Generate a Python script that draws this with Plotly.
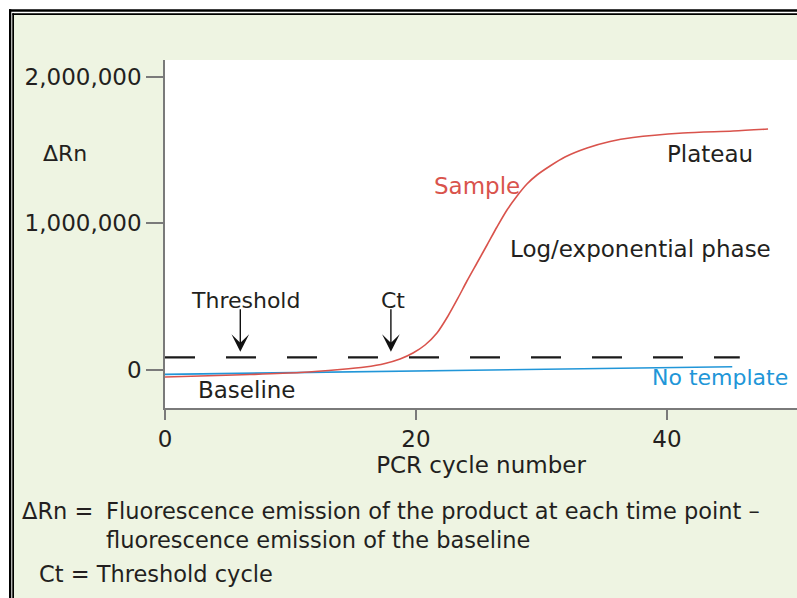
import plotly.graph_objects as go

# ---- data ----
sample_cycle = [0, 2.79, 6.77, 10.76, 13.94, 15.94, 17.53, 18.73, 19.76, 20.72,
                21.67, 22.55, 23.35, 24.06, 24.86, 25.66, 26.45, 27.25, 28.05,
                28.84, 29.64, 30.68, 31.87, 33.63, 35.46, 37.29, 41.27, 45.26, 48.05]
sample_rn = [-51200, -44400, -34100, -20500, 0, 17100, 41000, 71700, 112600,
             167200, 249100, 365200, 488100, 604100, 727000, 849800, 972700,
             1088700, 1184300, 1266200, 1327600, 1389100, 1450500, 1511900,
             1556300, 1583600, 1614300, 1628000, 1641600]
ntc_cycle = [0, 24.3, 45.2]
ntc_rn = [-33000, -5000, 19000]
threshold_cycle = [0, 45.8]
threshold_rn = [83000, 83000]
ct_cycle = 18.0
threshold_arrow_cycle = 6.0
arrow_tip_rn = 121000

x_ticks = [0, 20, 40]
y_ticks = [0, 1000000, 2000000]
y_ticktext = ["0", "1,000,000", "2,000,000"]

# ---- layout helpers ----
W, H = 797, 598
ML, MR, MT, MB = 165, 0, 60, 190
PW, PH = W - ML - MR, H - MT - MB


def px(x):
    return (x - ML) / PW


def py(y):
    return (H - MB - y) / PH


FONT = "DejaVu Sans"
DARK = "#231f20"
RED = "#d9534c"
BLUE = "#2196d8"
GRAY = "#7a7a7a"
GREEN = "#eef4e2"

fig = go.Figure()
fig.add_trace(go.Scatter(x=threshold_cycle, y=threshold_rn, mode="lines",
                         line=dict(color="#1a1a1a", width=2.2, dash="30px,31px"),
                         hoverinfo="skip", showlegend=False))
fig.add_trace(go.Scatter(x=ntc_cycle, y=ntc_rn, mode="lines",
                         line=dict(color=BLUE, width=1.6),
                         showlegend=False, name="No template"))
fig.add_trace(go.Scatter(x=sample_cycle, y=sample_rn, mode="lines",
                         line=dict(color=RED, width=1.6, shape="spline", smoothing=0.8),
                         showlegend=False, name="Sample"))

ann = []


def label(text, cx, cy, size=23, color=DARK, xanchor="center"):
    ann.append(dict(text=text, x=px(cx), y=py(cy), xref="paper", yref="paper",
                    showarrow=False, xanchor=xanchor, yanchor="middle",
                    font=dict(family=FONT, size=size, color=color)))


label("ΔRn", 65, 153, size=22)
label("Threshold", 245, 300.5, size=22)
label("Ct", 393, 300, size=22)
label("Sample", 477, 186, color=RED)
label("Plateau", 710, 154)
label("Log/exponential phase", 640, 249)
label("Baseline", 246.5, 390)
label("No template", 720, 377.5, color=BLUE, size=22)
label("ΔRn =", 20, 510.5, size=22.5, xanchor="left")
label("Fluorescence emission of the product at each time point –", 104, 510.5,
      size=22.5, xanchor="left")
label("fluorescence emission of the baseline", 104, 539.5, size=22.5, xanchor="left")
label("Ct = Threshold cycle", 37, 574, size=22.5, xanchor="left")

for xc in (threshold_arrow_cycle, ct_cycle):
    ann.append(dict(x=xc, y=arrow_tip_rn, xref="x", yref="y", text="",
                    showarrow=True, arrowhead=3, arrowsize=2.1, arrowwidth=1.4,
                    arrowcolor="#111111", ax=0, ay=-44))

shapes = [
    # white outside the frame
    dict(type="rect", xref="paper", yref="paper", x0=px(0), x1=px(12.3), y0=py(H), y1=py(0),
         fillcolor="white", line=dict(width=0), layer="above"),
    dict(type="rect", xref="paper", yref="paper", x0=px(0), x1=px(W), y0=py(13.3), y1=py(0),
         fillcolor="white", line=dict(width=0), layer="above"),
    # double frame lines
    dict(type="rect", xref="paper", yref="paper", x0=px(9), x1=px(11.3), y0=py(H), y1=py(9.3),
         fillcolor="black", line=dict(width=0), layer="above"),
    dict(type="rect", xref="paper", yref="paper", x0=px(9), x1=px(W), y0=py(11.7), y1=py(9.3),
         fillcolor="black", line=dict(width=0), layer="above"),
    dict(type="rect", xref="paper", yref="paper", x0=px(12.3), x1=px(14), y0=py(H), y1=py(13.3),
         fillcolor="black", line=dict(width=0), layer="above"),
    dict(type="rect", xref="paper", yref="paper", x0=px(12.3), x1=px(W), y0=py(15), y1=py(13.3),
         fillcolor="black", line=dict(width=0), layer="above"),
]

fig.update_layout(
    width=W, height=H,
    margin=dict(l=ML, r=MR, t=MT, b=MB, pad=0),
    paper_bgcolor=GREEN, plot_bgcolor="white",
    font=dict(family=FONT, color=DARK),
    annotations=ann, shapes=shapes,
    xaxis=dict(range=[0, PW / 12.55], tickvals=x_ticks, ticks="outside", ticklen=10,
               tickwidth=1.5, tickcolor=GRAY, showline=True, linecolor=GRAY, linewidth=1.5,
               showgrid=False, zeroline=False, tickfont=dict(size=23, color=DARK),
               title=dict(text="PCR cycle number", font=dict(size=23, color=DARK), standoff=6)),
    yaxis=dict(range=[-262800, 2112600], tickvals=y_ticks, ticktext=y_ticktext,
               ticks="outside", ticklen=17, tickwidth=1.5, tickcolor=GRAY,
               showline=True, linecolor=GRAY, linewidth=1.5, showgrid=False, zeroline=False,
               tickfont=dict(size=23, color=DARK)),
)

fig.write_html("out.html",
               config={"displayModeBar": False},
               post_script="document.body.style.margin='0px';"
                           "document.body.style.overflow='hidden';")
